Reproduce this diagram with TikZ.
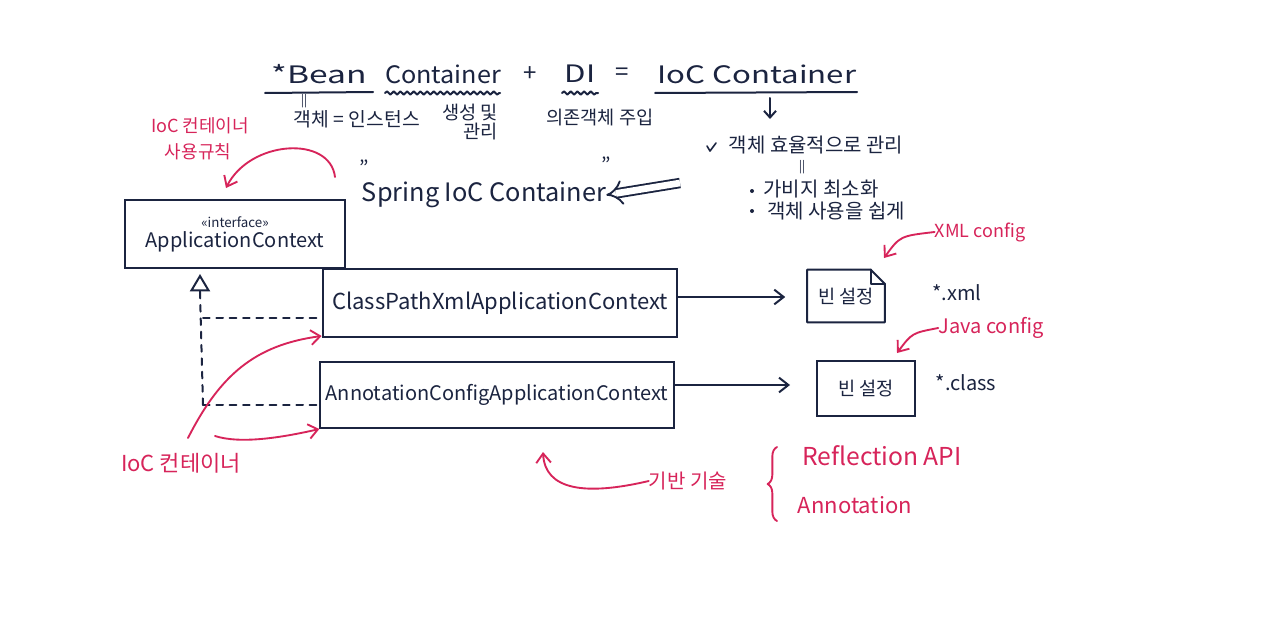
\documentclass[tikz,border=0pt]{standalone}
\usepackage{fontspec}
\setmainfont{Noto Sans CJK KR}
\usetikzlibrary{arrows.meta,decorations.pathmorphing,decorations.pathreplacing,calc}
\definecolor{ink}{HTML}{1B2440}
\definecolor{rose}{HTML}{D7245A}
\newcommand\myfs[1]{\fontsize{#1}{#1}\selectfont}
\tikzset{
  txt/.style={inner sep=0pt, text=ink},
  ptxt/.style={inner sep=0pt, text=rose},
  umlbox/.style={draw=ink, line width=1.5pt, inner sep=0pt, text=ink},
  inkline/.style={draw=ink, line width=1.5pt, line cap=round, line join=round},
  pinkline/.style={draw=rose, line width=1.4pt, line cap=round, line join=round},
  inkarrow/.style={inkline, -{Straight Barb[length=7pt,width=11pt]}},
  pinkarrow/.style={pinkline, -{Straight Barb[length=7pt,width=11pt]}},
  dashl/.style={inkline, dash pattern=on 5pt off 5pt},
  wavy/.style={inkline, decorate, decoration={snake, amplitude=1.2pt, segment length=5pt}},
}
\begin{document}
\begin{tikzpicture}[x=0.75pt,y=-0.75pt]
\useasboundingbox[fill=white] (0,0) rectangle (1280,635);

% ---- title line
\node[txt, font=\myfs{18}] (bean) at (319,74) {\scalebox{1.4}[1]{*Bean}};
\node[txt, font=\myfs{18}] (cont) at (443,74) {\scalebox{1.05}[1]{Container}};
\node[txt, font=\myfs{18}] (plus) at (530,74) {+};
\node[txt, font=\myfs{18}] (di) at (580,74) {\scalebox{1.3}[1]{DI}};
\node[txt, font=\myfs{18}] (eq) at (622,74) {=};
\node[txt, font=\myfs{18}] (ioc) at (757,74) {\scalebox{1.3}[1]{IoC Container}};
\draw[inkline] (265,93) -- (373,92);
\draw[wavy] (385,93) -- (500,93);
\draw[wavy] (562,93) -- (598,93);
\draw[inkline] (655,93) -- (857,92);

\node[txt, font=\myfs{9}] (eq1) at (304,101) {||};
\node[txt, font=\myfs{14.5}] (obj) at (357,119) {객체 = 인스턴스};
\node[txt, font=\myfs{14}, align=right] (mk) at (470,122) {생성 및\\관리};
\node[txt, font=\myfs{14}] (dep) at (600,118) {의존객체 주입};
\coordinate (dtop) at (770,98);
\coordinate (dbot) at (770,119);
\draw[inkline, -{Straight Barb[length=5pt,width=9pt]}] (dtop) -- (dbot);

% ---- benefits
\draw[inkline, line width=1.2pt] (707,146) -- (710,151) -- (716,143);
\node[txt, font=\myfs{15}] (b1) at (816,145) {객체 효율적으로 관리};
\node[txt, font=\myfs{9}] (eq2) at (802,167) {||};
\fill[ink] (752,191) circle (1.5pt);
\node[txt, font=\myfs{15}] (b2) at (821,189) {가비지 최소화};
\fill[ink] (752,211) circle (1.5pt);
\node[txt, font=\myfs{15}] (b3) at (836,211) {객체 사용을 쉽게};

% ---- IoC container usage rules
\node[ptxt, font=\myfs{13.5}] (rule1) at (200,126) {IoC 컨테이너};
\node[ptxt, font=\myfs{13.5}] (rule2) at (198,152) {사용규칙};
\coordinate (ra) at (335,177);
\draw[pinkarrow] (ra) .. controls (330,135) and (250,140) .. (226,188);

% ---- Spring IoC Container
\node[txt, font=\myfs{19}] (spring) at (484,195) {Spring IoC Container};
\node[txt, font=\myfs{15}] (q1) at (364,168) {''};
\node[txt, font=\myfs{15}] (q2) at (606,165) {''};
\coordinate (dbl) at (680,183);
\draw[draw=ink, line width=1.4pt, double distance=5pt, -{Implies}] (dbl) -- (spring.east);

% ---- ApplicationContext
\node[umlbox, minimum width=165pt, minimum height=51pt, align=center] (app) at (235,234)
  {{\myfs{10}«interface»}\\[2pt]{\myfs{15}ApplicationContext}};

\node[umlbox, minimum width=266pt, minimum height=51pt] (cp) at (500,303)
  {\myfs{16.5}ClassPathXmlApplicationContext};
\node[umlbox, minimum width=265pt, minimum height=49.5pt] (ac) at (497,395)
  {\myfs{15}AnnotationConfigApplicationContext};

\coordinate (inh) at (200,274);
\coordinate (j1) at (203,318);
\coordinate (j2) at (203,405);
\draw[dashl] (j2) -- (200,292);
\draw[draw=ink, line width=1.5pt, -{Triangle[open,length=13pt,width=15pt]}] (200,291) -- (inh);
\draw[dashl] (j1) -- (cp.west |- j1);
\draw[dashl] (j2) -- (ac.west |- j2);

% ---- config boxes
\node[txt, minimum width=57.75pt, minimum height=39pt] (xmlcfg) at (846,296) {\myfs{14}빈 설정};
\draw[inkline] (xmlcfg.north west) -- ($(xmlcfg.north east)+(-14,0)$) -- ($(xmlcfg.north east)+(0,14)$)
  -- (xmlcfg.south east) -- (xmlcfg.south west) -- cycle;
\draw[inkline] ($(xmlcfg.north east)+(-14,0)$) -- ($(xmlcfg.north east)+(-14,14)$) -- ($(xmlcfg.north east)+(0,14)$);
\node[umlbox, minimum width=73.5pt, minimum height=41.25pt] (clscfg) at (866,388) {\myfs{14}빈 설정};
\node[txt, font=\myfs{15}] (xmlext) at (957,293) {*.xml};
\node[txt, font=\myfs{15}] (clsext) at (966,383) {*.class};

\draw[inkarrow, shorten >=16.5pt] (cp.east |- 0,297) -- (xmlcfg.west |- 0,297);
\draw[inkarrow, shorten >=19.5pt] (ac.east |- 0,385) -- (clscfg.west |- 0,385);

% ---- pink config notes
\node[ptxt, font=\myfs{13.5}] (xmln) at (980,232) {XML config};
\draw[pinkarrow] (xmln.west) .. controls (900,236) .. (884,258);
\node[ptxt, font=\myfs{15}] (javan) at (991,328) {Java config};
\draw[pinkarrow] (javan.west) .. controls (912,333) .. (897,353);

% ---- IoC container (bottom)
\node[ptxt, font=\myfs{16.5}] (iocb) at (181,463) {IoC 컨테이너};
\coordinate (p1) at (188,438);
\coordinate (p2) at (215,436);
\draw[pinkarrow] (p1) .. controls (220,375) and (255,345) .. (cp.west |- 0,336);
\draw[pinkarrow] (p2) .. controls (240,444) and (280,438) .. (ac.west |- 0,429);

% ---- base technology
\node[ptxt, font=\myfs{15}] (base) at (688,481) {기반 기술};
\draw[pinkarrow] (base.west) .. controls (585,496) and (545,490) .. (543,452);
\draw[pinkline, decorate, decoration={brace, amplitude=7pt}] (777,521) -- (777,447);
\node[ptxt, font=\myfs{18.5}] (refl) at (882,456) {Reflection API};
\node[ptxt, font=\myfs{16.5}] (anno) at (855,505) {Annotation};
\end{tikzpicture}
\end{document}
